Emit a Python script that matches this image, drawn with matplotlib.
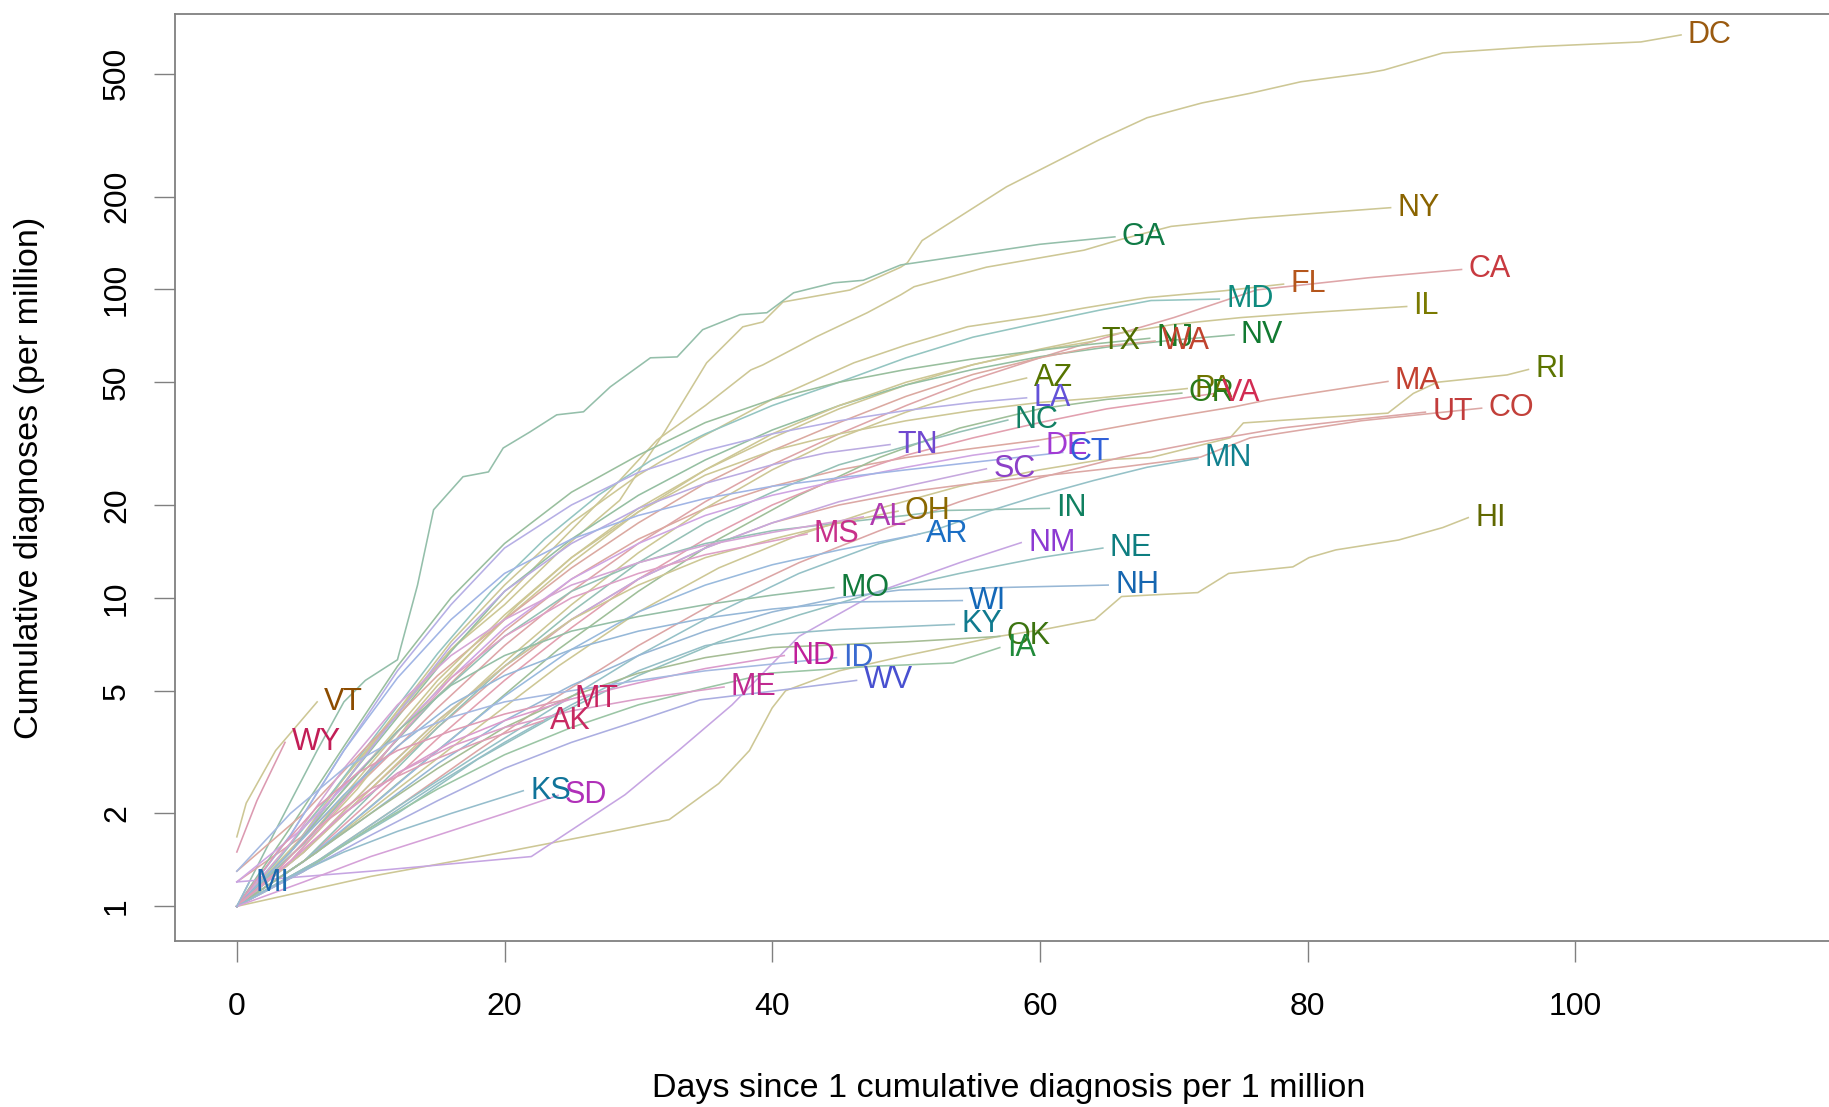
import numpy as np
import matplotlib.pyplot as plt
from matplotlib.colors import to_rgb

plt.rcParams['font.family'] = ['Liberation Sans', 'DejaVu Sans']

# (days since 1 per million, cumulative diagnoses per million)
DC = [(0, 1), (4, 1.5), (8, 2.6), (12, 4.2), (16, 6.8), (20, 9.5), (24, 14), (28.6, 20.7), (31.9, 34.2),
      (35.1, 57.8), (37.8, 75.6), (39.3, 78.4), (40.8, 91), (45.8, 99.5), (49.6, 118), (50.1, 122),
      (51.2, 144), (57.5, 215), (64.4, 305), (68, 360), (72.1, 402), (75.7, 432), (79.5, 471),
      (84.5, 503), (85.7, 514), (90.1, 584), (97, 612), (104.9, 634), (107.9, 668)]
NY = [(0, 1), (4, 1.6), (8, 2.6), (12, 4.3), (16, 6.8), (20, 10), (24, 15), (28, 22.5), (31.4, 32.5),
      (35, 42), (38.4, 54.8), (39.3, 56.9), (43.3, 70.2), (47.1, 84), (49.6, 96), (50.6, 102), (56, 118),
      (63.3, 134), (66, 145), (69.8, 160), (75.7, 170), (81, 177), (86.2, 184)]
GA = [(0, 1), (3, 1.8), (6, 3.2), (8, 4.6), (9.6, 5.4), (12, 6.3), (13.5, 11), (14.7, 19.3), (16.9, 24.7),
      (18.8, 25.6), (19.9, 30.6), (21.9, 34.5), (23.9, 39.2), (25.9, 40.1), (27.9, 48.3), (30.9, 60),
      (32.9, 60.4), (34.8, 74), (37.6, 82.8), (39.6, 84), (41.6, 97.5), (44.6, 105), (46.8, 107),
      (49.6, 120), (55, 130), (60, 140), (65.6, 148)]
CA = [(0, 1.2), (5, 1.7), (10, 2.7), (15, 4.4), (20, 7), (25, 10.5), (30, 15), (35, 20.5), (40, 27),
      (45, 34), (50, 42), (55, 51), (60, 60), (65, 70), (70, 81), (76.2, 99.6), (84.5, 109), (91.5, 116)]
FL = [(0, 1), (4, 1.5), (8, 2.5), (12, 4.3), (16, 7.2), (20, 11), (25, 17.5), (30, 25), (34.6, 33),
      (40, 44), (46.1, 57.8), (50, 66), (54.6, 75.7), (60, 82), (63.3, 87), (68, 94), (73.8, 99), (78.2, 104)]
MD = [(0, 1), (3, 1.4), (7, 2.3), (11, 3.9), (15, 6.6), (19, 10.5), (23, 15.5), (27, 21.5), (31, 28),
      (35, 34), (40, 42), (45, 50), (50, 60), (55, 70), (60, 78), (64.5, 85.7), (68.3, 92), (73.4, 93)]
IL = [(0, 1), (4, 1.4), (9, 2.4), (13, 4), (17, 6.3), (21, 9.5), (25, 13.5), (30, 19.5), (35, 26),
      (40, 33), (45, 41), (50, 49), (55, 57), (60, 64), (65, 71), (70, 77), (75, 81), (80, 84), (87.4, 88)]
NV = [(0, 1), (4, 1.5), (8, 2.5), (12, 4.1), (16, 6.7), (20, 10.5), (25, 15.5), (30, 21.5), (35, 28),
      (40, 35), (45, 42), (50, 49), (55, 55), (60, 60.5), (65, 65), (70, 68.5), (74.5, 71.2)]
TX = [(0, 1), (5, 1.6), (10, 2.9), (15, 5.2), (20, 8.5), (25, 13), (30, 19), (35, 26), (40, 34),
      (45, 42), (50, 50), (55, 57), (60, 63.5), (64.1, 68)]
NJ = [(0, 1), (4, 1.8), (8, 3.3), (12, 6), (16, 10), (20, 15), (25, 22), (30, 29), (35, 37), (40, 44),
      (45, 50), (50, 55), (55, 59.5), (60, 63.5), (64, 66.5), (68.2, 69.4)]
WA = [(0, 1.3), (5, 2), (10, 3.4), (15, 5.6), (20, 8.5), (25, 12.5), (30, 17.5), (35, 23.5), (40, 30),
      (45, 37), (50, 45), (55, 53), (60, 60), (64, 65), (68.6, 68)]
RI = [(0, 1), (6, 1.5), (12, 2.4), (18, 3.8), (24, 6), (30, 9), (36, 12.5), (42, 16), (48, 19.5),
      (54, 23), (60, 26), (64.5, 28), (68.3, 28.5), (74.2, 33), (75.2, 36.9), (86, 39.7), (87.9, 46),
      (89.7, 50), (94.9, 52.8), (96.5, 55)]
MA = [(0, 1), (5, 1.6), (10, 2.8), (15, 4.8), (20, 7.8), (25, 11.5), (30, 15.5), (35, 19.5), (40, 23),
      (45, 26), (50, 28.5), (55, 30.5), (60, 32.5), (64.5, 35), (69, 38), (74.5, 41.6), (77, 43.8), (86, 50.3)]
UT = [(0, 1), (6, 1.4), (12, 2.1), (18, 3.2), (24, 4.8), (30, 7), (36, 9.8), (42, 13), (48, 16.5),
      (54, 20.5), (60, 24.5), (66, 28.5), (72, 32), (78, 35.5), (84, 38), (88.8, 40)]
CO = [(0, 1), (5, 1.5), (10, 2.4), (15, 3.8), (20, 5.8), (25, 8.5), (30, 11.5), (35, 14.5), (40, 17.5),
      (45, 20), (50, 22), (55, 23.5), (60, 24.8), (66, 26.5), (72, 28.6), (75.7, 33), (84, 37.5), (93, 41.2)]
PA = [(0, 1), (5, 1.7), (10, 3), (15, 5.4), (20, 8.8), (25, 13.5), (30, 19), (35, 25), (40, 30),
      (45, 34), (50, 37.5), (55, 40.5), (60, 43), (64.5, 44.5), (71, 47.7)]
OR = [(0, 1), (6, 1.5), (12, 2.5), (18, 4.1), (24, 6.8), (30, 10.5), (36, 15.5), (42, 21.5), (48, 28.5),
      (54, 35.5), (60, 41), (65, 44), (70.6, 46.1)]
VA = [(0, 1), (5, 1.4), (10, 2.2), (15, 3.5), (20, 5.4), (25, 8), (30, 11.5), (35, 15.5), (40, 20),
      (45, 24.5), (50, 29), (55, 33), (60, 37), (65, 41), (73.1, 46)]
AZ = [(0, 1), (5, 1.5), (10, 2.4), (15, 3.9), (20, 6.2), (25, 9.5), (30, 14), (35, 19.5), (40, 26),
      (45, 33), (50, 40), (55, 47), (59, 51.6)]
LA = [(0, 1), (4, 1.7), (8, 3.2), (12, 5.8), (16, 9.5), (20, 14.5), (25, 20), (30, 25.5), (35, 30),
      (40, 34), (45, 37.5), (50, 40.5), (55, 43), (59, 44.5)]
NC = [(0, 1), (5, 1.4), (10, 2.3), (15, 3.8), (20, 6), (25, 9), (30, 13), (35, 17.5), (40, 22), (45, 27),
      (50, 31), (54, 34.5), (57.6, 37.7)]
TN = [(0, 1), (4, 1.5), (8, 2.5), (12, 4.2), (16, 7), (20, 10.5), (25, 15), (30, 19.5), (35, 23.5),
      (40, 27), (44, 29.5), (48.8, 31.4)]
DE = [(0, 1.2), (5, 1.8), (10, 3), (15, 5), (20, 8), (25, 11.5), (30, 15), (35, 18.5), (40, 21.5),
      (45, 24), (50, 26.5), (55, 29), (59.9, 31)]
CT = [(0, 1), (4, 1.7), (8, 3.2), (12, 5.5), (16, 8.5), (20, 12), (25, 15.5), (30, 18.5), (35, 21),
      (40, 23), (45, 24.5), (50, 26), (55, 27.5), (61.7, 29.6)]
SC = [(0, 1), (5, 1.5), (10, 2.5), (15, 4), (20, 6), (25, 8.5), (30, 11.5), (35, 14.5), (40, 17.5),
      (45, 20.5), (50, 23), (56, 26.2)]
MN = [(0, 1), (6, 1.4), (12, 2.1), (18, 3.1), (24, 4.5), (30, 6.5), (36, 9), (42, 12), (48, 15),
      (52, 16.5), (56, 19), (60, 21.5), (64, 24), (68, 26.5), (71.8, 28.3)]
IN = [(0, 1), (5, 1.6), (10, 2.8), (15, 4.8), (20, 7.5), (25, 10.5), (30, 13), (35, 15), (40, 16.5),
      (45, 17.5), (50, 18.5), (53, 19.2), (60.7, 19.5)]
HI = [(0, 1), (10, 1.25), (20, 1.5), (28, 1.75), (32.3, 1.91), (36, 2.5), (38.3, 3.2), (40, 4.4), (41, 5),
      (45, 5.8), (50, 6.5), (56.9, 7.5), (60.3, 7.9), (64.1, 8.5), (66.1, 10.1), (71.8, 10.4), (74.1, 12),
      (78.9, 12.6), (80.1, 13.5), (82.1, 14.3), (86.8, 15.4), (90.1, 16.9), (92, 18.2)]
OH = [(0, 1), (5, 1.5), (10, 2.5), (15, 4), (20, 6), (25, 8.5), (30, 11), (35, 13.5), (40, 15.5),
      (45, 17.5), (49.4, 19.1)]
AL = [(0, 1), (4, 1.6), (8, 2.8), (12, 4.5), (16, 6.5), (20, 8.5), (25, 11), (30, 13), (35, 14.8),
      (40, 16.3), (46.8, 18.3)]
MS = [(0, 1), (4, 1.4), (8, 2.2), (12, 3.5), (16, 5.5), (20, 7.5), (25, 10), (30, 12), (35, 13.8), (42.6, 16.1)]
AR = [(0, 1), (5, 1.4), (10, 2.1), (15, 3.2), (20, 4.8), (25, 6.8), (30, 9), (35, 11), (40, 12.8),
      (45, 14.3), (51, 16.1)]
NM = [(0, 1.2), (10, 1.3), (22, 1.45), (29, 2.3), (33, 3.2), (37, 4.5), (42, 7.5), (48, 10.5),
      (54, 13), (58.6, 15.1)]
NE = [(0, 1), (6, 1.4), (12, 2), (18, 3), (24, 4.2), (30, 5.6), (36, 7.2), (42, 8.8), (48, 10.5),
      (54, 12), (60, 13.5), (64.7, 14.5)]
MO = [(0, 1), (4, 1.5), (8, 2.4), (12, 3.7), (16, 5.2), (20, 6.5), (25, 7.8), (30, 8.7), (35, 9.5),
      (40, 10.2), (44.6, 10.8)]
NH = [(0, 1), (5, 1.4), (10, 2), (15, 2.9), (20, 4), (25, 5.2), (30, 6.5), (35, 7.8), (40, 9), (45, 10),
      (49.5, 10.6), (57, 10.8), (65.1, 11)]
WI = [(0, 1), (4, 1.5), (8, 2.3), (12, 3.3), (16, 4.5), (20, 5.6), (25, 6.8), (30, 7.8), (35, 8.6),
      (40, 9.2), (46, 9.7), (54.2, 9.8)]
KY = [(0, 1), (5, 1.3), (10, 1.8), (15, 2.5), (20, 3.4), (25, 4.5), (30, 5.8), (35, 7), (40, 7.6),
      (45, 7.9), (53.6, 8.2)]
OK = [(0, 1), (5, 1.4), (10, 2), (15, 2.8), (20, 3.8), (25, 4.8), (30, 5.7), (35, 6.4), (40, 6.9),
      (50, 7.2), (57, 7.5)]
IA = [(0, 1), (5, 1.3), (10, 1.8), (15, 2.4), (20, 3.1), (25, 3.8), (30, 4.5), (35, 5.1), (39.8, 5.7),
      (47.5, 6), (53.5, 6.15), (57, 6.9)]
ND = [(0, 1), (4, 1.4), (8, 2), (12, 2.7), (16, 3.4), (20, 4), (25, 4.7), (30, 5.3), (35, 5.9), (40.9, 6.5)]
ID = [(0, 1.3), (4, 2), (8, 2.8), (12, 3.5), (16, 4.1), (20, 4.6), (25, 5), (30, 5.4), (35, 5.8),
      (40, 6.1), (44.8, 6.4)]
WV = [(0, 1), (5, 1.3), (10, 1.7), (15, 2.2), (20, 2.8), (25, 3.4), (30, 4), (34.6, 4.67), (40.3, 5.0), (46.3, 5.4)]
ME = [(0, 1), (4, 1.4), (8, 2), (12, 2.7), (16, 3.3), (20, 3.8), (25, 4.3), (30, 4.7), (36.4, 5.14)]
MT = [(0, 1), (3, 1.5), (6, 2.1), (9, 2.7), (12, 3.2), (16, 3.7), (20, 4.2), (24.7, 4.7)]
AK = [(0, 1), (3, 1.3), (6, 1.8), (10, 2.4), (14, 2.9), (18, 3.4), (22.9, 4.0)]
VT = [(0, 1.68), (0.7, 2.16), (2.9, 3.2), (6, 4.6)]
WY = [(0, 1.5), (1.5, 2.2), (3.6, 3.4)]
KS = [(0, 1), (4, 1.25), (8, 1.5), (12, 1.75), (16, 2), (21.4, 2.37)]
SD = [(0, 1), (5, 1.2), (10, 1.45), (15, 1.7), (20, 2), (24, 2.29)]
MI = [(0, 1), (0.9, 1.19)]

series = {
    'DC': DC, 'NY': NY, 'GA': GA, 'CA': CA, 'FL': FL, 'MD': MD, 'IL': IL, 'NV': NV, 'TX': TX,
    'NJ': NJ, 'WA': WA, 'RI': RI, 'MA': MA, 'UT': UT, 'CO': CO, 'PA': PA, 'OR': OR, 'VA': VA,
    'AZ': AZ, 'LA': LA, 'NC': NC, 'TN': TN, 'DE': DE, 'CT': CT, 'SC': SC, 'MN': MN, 'IN': IN,
    'HI': HI, 'OH': OH, 'AL': AL, 'MS': MS, 'AR': AR, 'NM': NM, 'NE': NE, 'MO': MO, 'NH': NH,
    'WI': WI, 'KY': KY, 'OK': OK, 'IA': IA, 'ND': ND, 'ID': ID, 'WV': WV, 'ME': ME, 'MT': MT,
    'AK': AK, 'VT': VT, 'WY': WY, 'KS': KS, 'SD': SD, 'MI': MI,
}

label_colors = {
    'DC': '#9a5a10', 'NY': '#8a6400', 'GA': '#0f7a45', 'CA': '#c83a40', 'FL': '#b5561c',
    'MD': '#0e8a7e', 'IL': '#7a7a00', 'NV': '#127a32', 'TX': '#4f6e00', 'NJ': '#1c7a28',
    'WA': '#c0432e', 'RI': '#5c7400', 'MA': '#c2402f', 'UT': '#c23c3c', 'CO': '#c2403a',
    'PA': '#6e7400', 'OR': '#2a7a1a', 'VA': '#d22c52', 'AZ': '#567400', 'LA': '#6352d8',
    'NC': '#128064', 'TN': '#7048d0', 'DE': '#a23ad4', 'CT': '#3060d8', 'SC': '#8c40c8',
    'MN': '#10808e', 'IN': '#108060', 'HI': '#606800', 'OH': '#8a6800', 'AL': '#b03ab0',
    'MS': '#c8308a', 'AR': '#1a6ec4', 'NM': '#8c3ad2', 'NE': '#0e7e80', 'MO': '#127a3c',
    'NH': '#1666b0', 'WI': '#1468b8', 'KY': '#107a8e', 'OK': '#3c7410', 'IA': '#208a3a',
    'ND': '#c0209a', 'ID': '#3a6ad0', 'WV': '#4850d0', 'ME': '#c02a90', 'MT': '#c8225e',
    'AK': '#c82a62', 'VT': '#8c4c00', 'WY': '#c21e56', 'KS': '#10749a', 'SD': '#b030b8',
    'MI': '#1a6aae',
}

# a few lines are drawn in a khaki tone rather than a tint of the label colour
khaki_lines = ['DC', 'NY', 'FL', 'OH', 'VT', 'HI', 'IL', 'RI', 'PA', 'TX', 'AZ']

y_ticks = [1, 2, 5, 10, 20, 50, 100, 200, 500]
x_ticks = [0, 20, 40, 60, 80, 100]

fig = plt.figure(figsize=(18.29, 11.07), dpi=100)
ax = fig.add_axes([175 / 1829, 166 / 1107, 1668 / 1829, 927 / 1107])
ax.set_yscale('log')

for name, pts in series.items():
    pts = np.array(pts)
    if name in khaki_lines:
        line_col = '#cdc795'
    else:
        line_col = 0.4 * np.array(to_rgb(label_colors[name])) + 0.6 * np.array([0.93, 0.93, 0.93])
    ax.plot(pts[:, 0], pts[:, 1], color=line_col, lw=1.15, zorder=2)

for name, pts in series.items():
    x_end, y_end = pts[-1]
    ax.annotate(name, (x_end, y_end), xytext=(5, 0), textcoords='offset points',
                ha='left', va='center', fontsize=22, color=label_colors[name], zorder=3)

ax.set_xlim(-4.62, 120.0)
ax.set_ylim(0.772, 781)
ax.set_xticks(x_ticks)
ax.set_xticklabels([str(t) for t in x_ticks])
ax.set_yticks(y_ticks)
ax.set_yticklabels([str(t) for t in y_ticks], rotation=90, va='center')
ax.minorticks_off()
ax.tick_params(axis='both', length=15, width=1, color='#808080', labelsize=23)
ax.tick_params(axis='x', pad=22)
ax.tick_params(axis='y', pad=16)

for side in ['left', 'top', 'bottom']:
    ax.spines[side].set_color('#808080')
    ax.spines[side].set_linewidth(1.3)
ax.spines['right'].set_visible(False)

ax.set_xlabel('Days since 1 cumulative diagnosis per 1 million', fontsize=24.5)
ax.xaxis.set_label_coords(0.5, -0.1586)
ax.xaxis.label.set_va('center')
ax.set_ylabel('Cumulative diagnoses (per million)', fontsize=24.5)
ax.yaxis.set_label_coords(-0.0875, 0.5)
ax.yaxis.label.set_va('center')

fig.savefig('out.png', dpi=100)
